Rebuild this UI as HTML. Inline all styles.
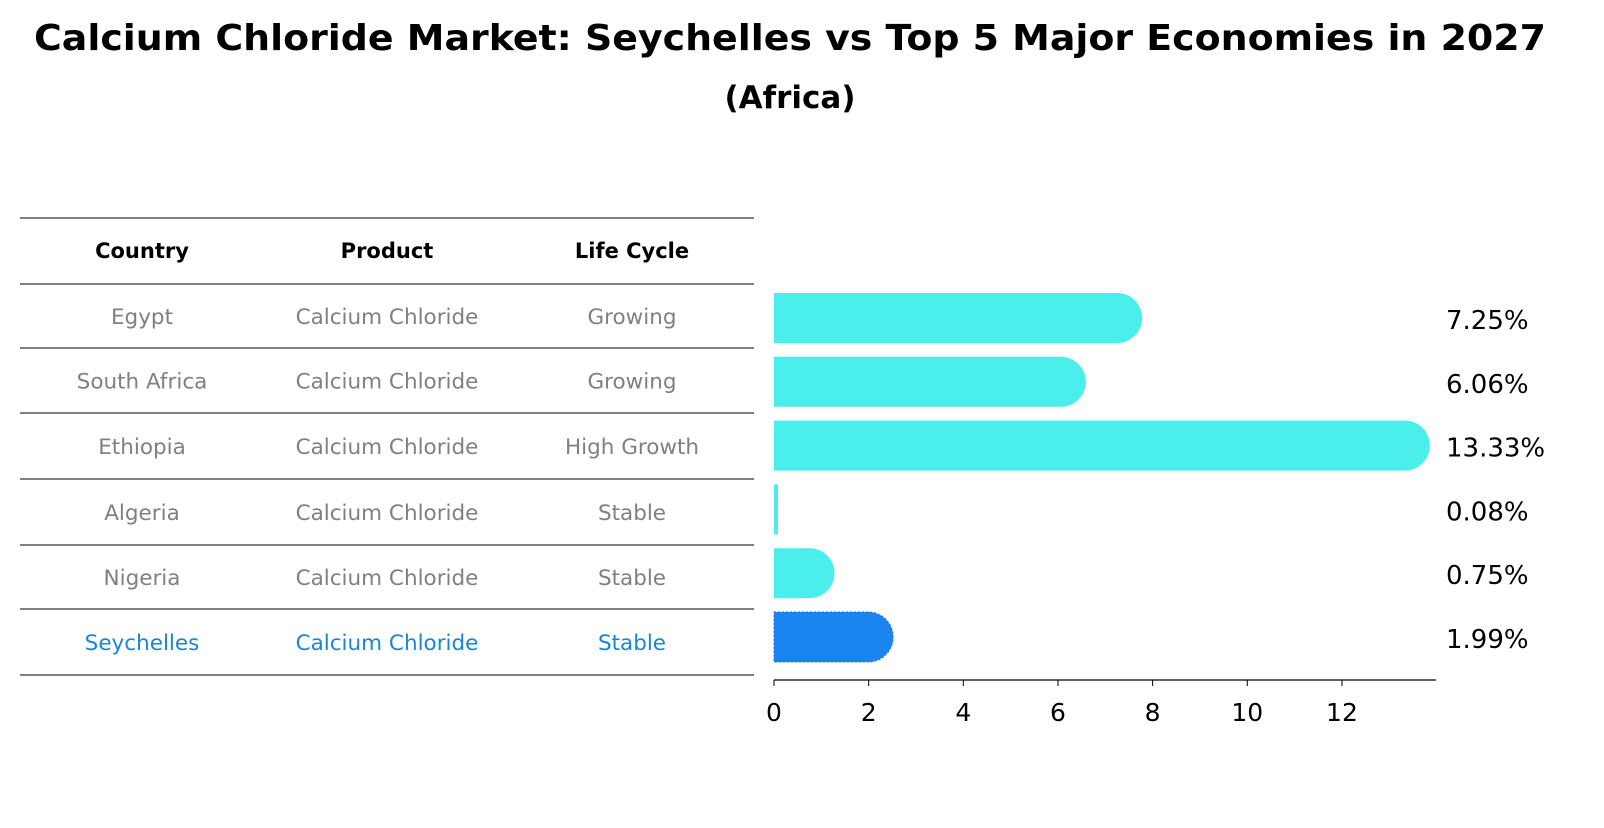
<!DOCTYPE html>
<html><head><meta charset="utf-8"><style>
body{margin:0;background:#fff;font-family:"Liberation Sans","DejaVu Sans",sans-serif}
</style></head><body>
<svg width="1604" height="823" xmlns="http://www.w3.org/2000/svg" font-family="DejaVu Sans, Liberation Sans, sans-serif">
<text x="790" y="50" text-anchor="middle" font-size="36" font-weight="bold" textLength="1512" lengthAdjust="spacingAndGlyphs">Calcium Chloride Market: Seychelles vs Top 5 Major Economies in 2027</text>
<text x="790" y="108" text-anchor="middle" font-size="31" font-weight="bold">(Africa)</text>
<g id="table"></g>
<g id="bars"></g>
</svg>
<script>
const countries=["Egypt","South Africa","Ethiopia","Algeria","Nigeria","Seychelles"];
const products=["Calcium Chloride","Calcium Chloride","Calcium Chloride","Calcium Chloride","Calcium Chloride","Calcium Chloride"];
const lifeCycles=["Growing","Growing","High Growth","Stable","Stable","Stable"];
const values=[7.25,6.06,13.33,0.08,0.75,1.99];
const valueLabels=["7.25%","6.06%","13.33%","0.08%","0.75%","1.99%"];
const ticks=[0,2,4,6,8,10,12];
const NS="http://www.w3.org/2000/svg";
function mk(tag,attrs,parent){const e=document.createElementNS(NS,tag);for(const k in attrs)e.setAttribute(k,attrs[k]);parent.appendChild(e);return e;}
const tbl=document.getElementById('table');
const lineYs=[218,284,348,413,479,545,609,675];
const colX=[142,387,632];
lineYs.forEach((y,i)=>{const l=mk('line',{x1:20,x2:754,y1:y,y2:y,stroke:'#000','stroke-width':1},tbl);
});
["Country","Product","Life Cycle"].forEach((h,i)=>{const t=mk('text',{x:colX[i],y:258,'text-anchor':'middle','font-size':21,'font-weight':'bold'},tbl);t.textContent=h;
});
countries.forEach((c,i)=>{const y=(lineYs[i+1]+lineYs[i+2])/2+8;const col=i===5?'#1a85d6':'#808080';
[c,products[i],lifeCycles[i]].forEach((v,j)=>{const t=mk('text',{x:colX[j],y:y,'text-anchor':'middle','font-size':21.5,fill:col},tbl);t.textContent=v;
});});
const g=document.getElementById('bars');
const x0=774,ppu=47.33;const xs=v=>x0+v*ppu;
const yc=i=>318+i*63.8;const h=50;
values.forEach((v,i)=>{const col=i===5?'#1a85f0':'#4aeeea';const xe=xs(v);
const p=mk('path',{d:`M${x0},${yc(i)-h/2} L${xe},${yc(i)-h/2} A${h/2},${h/2} 0 0 1 ${xe},${yc(i)+h/2} L${x0},${yc(i)+h/2} Z`,fill:col},g);
if(v<0.2){p.setAttribute('d',`M${x0},${yc(i)-h/2} h4 v${h} h-4 Z`);}
if(i===5){p.setAttribute('stroke','#1a70e0');p.setAttribute('stroke-dasharray','2,2');}

const t=mk('text',{x:1446,y:yc(i)+11,'font-size':26},g);t.textContent=valueLabels[i];
});
const ax=mk('line',{x1:x0,x2:1436,y1:680,y2:680,stroke:'#000','stroke-width':1.3},g);

ticks.forEach(tv=>{const tk=mk('line',{x1:xs(tv),x2:xs(tv),y1:680,y2:686,stroke:'#000'},g);

const t=mk('text',{x:xs(tv),y:721,'text-anchor':'middle','font-size':25},g);t.textContent=tv;
});
</script>
</body></html>
